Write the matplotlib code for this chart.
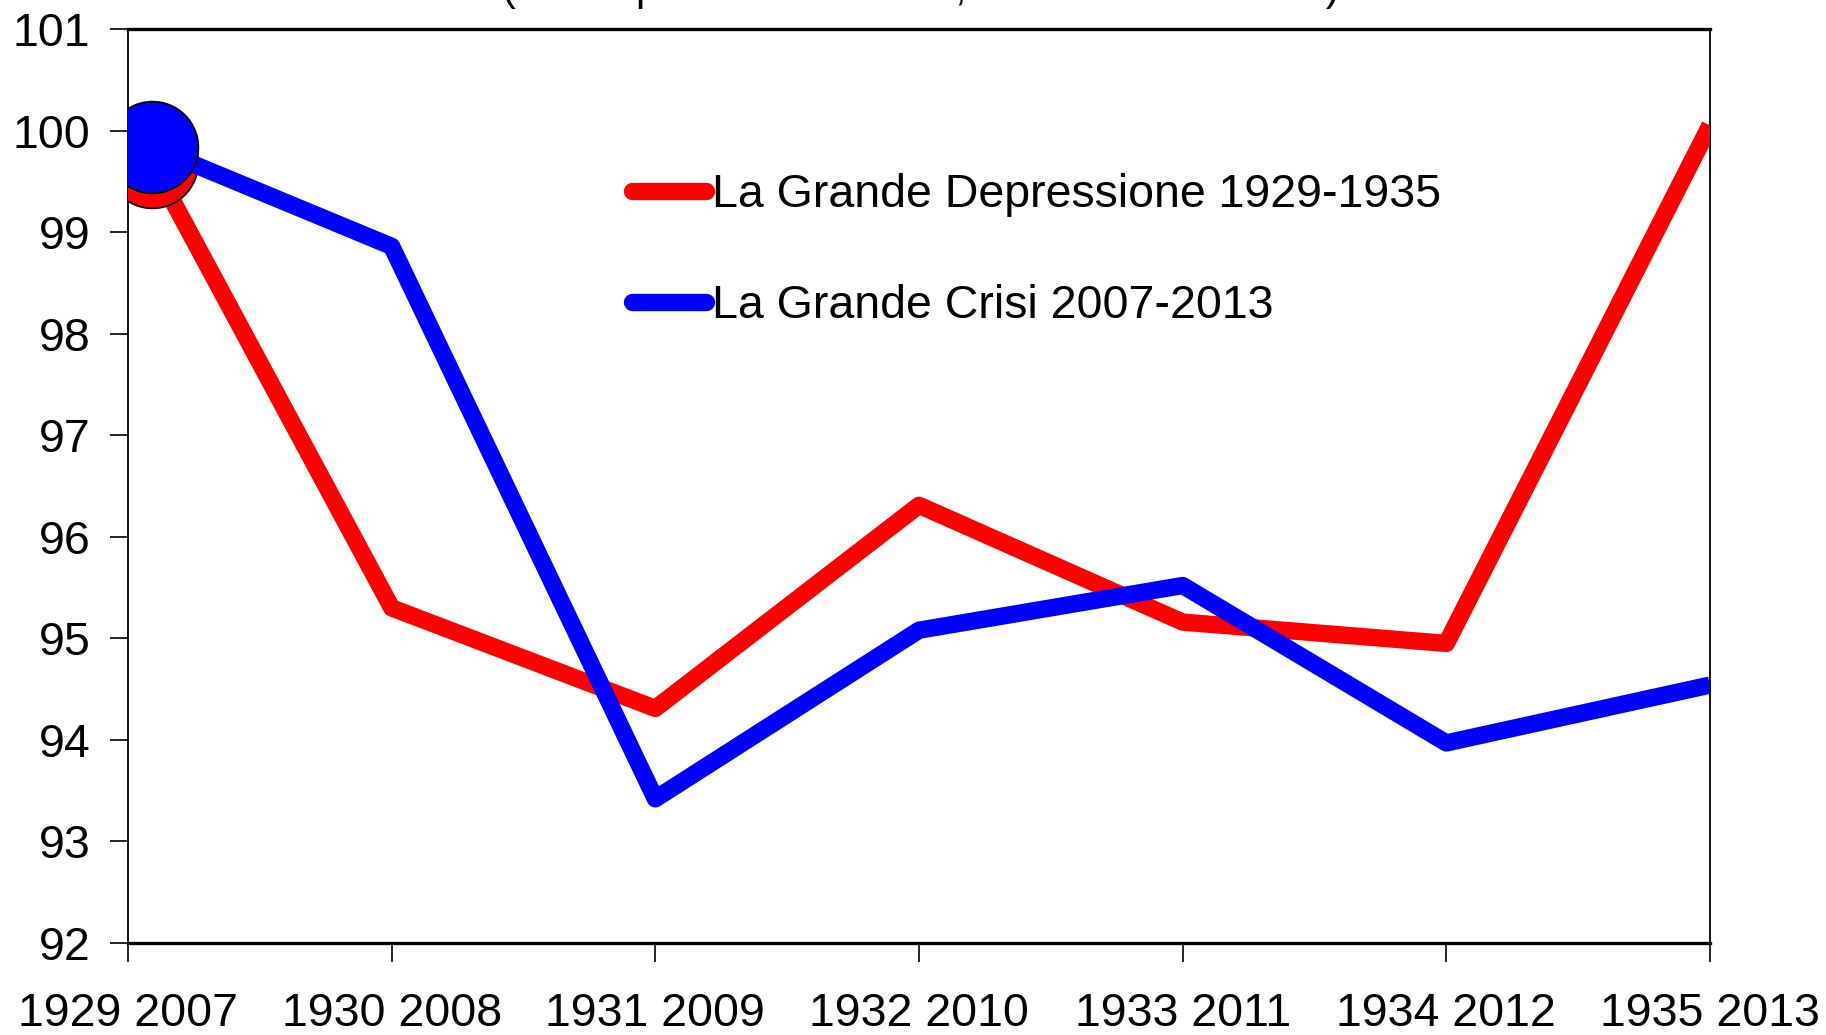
import matplotlib
matplotlib.use('Agg')
import matplotlib.pyplot as plt

plt.rcParams['font.family'] = ['Liberation Sans', 'DejaVu Sans']

# ── Data ────────────────────────────────────────────────────
LABELS   = ['1929 2007', '1930 2008', '1931 2009', '1932 2010',
            '1933 2011', '1934 2012', '1935 2013']
XPOS     = [0.09, 1, 2, 3, 4, 5, 6]
DEPRESS  = [99.69, 95.30, 94.31, 96.31, 95.16, 94.95, 100.05]
CRISI    = [99.84, 98.86, 93.42, 95.08, 95.52, 93.97, 94.54]
NAME_DEP = 'La Grande Depressione 1929-1935'
NAME_CRI = 'La Grande Crisi 2007-2013'
TITLE    = '(indice produzione totale, anno iniziale = 100)'
YTICKS   = list(range(92, 102))

RED  = '#ff0000'
BLUE = '#0000ff'
FS   = 33.5

W, H = 1826, 1035
fig = plt.figure(figsize=(W / 100, H / 100), dpi=100, facecolor='white')
ax = fig.add_axes([128 / W, 1 - 943 / H, (1710 - 128) / W, (943 - 29) / H])

for vals, col, name in [(DEPRESS, RED, NAME_DEP), (CRISI, BLUE, NAME_CRI)]:
    ax.plot(XPOS, vals, color=col, linewidth=12.5, label=name,
            solid_joinstyle='round', solid_capstyle='butt', zorder=3,
            marker='o', markevery=[0], markersize=66,
            markerfacecolor=col, markeredgecolor='black', markeredgewidth=1.3)

ax.set_xlim(0, 6)
ax.set_ylim(92, 101)
ax.set_xticks(range(len(LABELS)))
ax.set_xticklabels(LABELS, fontsize=FS)
ax.set_yticks(YTICKS)
ax.set_yticklabels([str(v) for v in YTICKS], fontsize=FS)
ax.tick_params(axis='x', direction='out', length=14, width=1.2, pad=21)
ax.tick_params(axis='y', direction='out', length=13, width=1.2, pad=14)

for side in ['top', 'bottom']:
    ax.spines[side].set_linewidth(2.4)
for side in ['left', 'right']:
    ax.spines[side].set_linewidth(1.3)

leg = ax.legend(loc='upper left', bbox_to_anchor=(632 / W, 1 - 173 / H),
                bbox_transform=fig.transFigure, frameon=False, fontsize=FS,
                handlelength=1.6, handletextpad=0.12, labelspacing=1.45,
                borderpad=0, borderaxespad=0)
for line in leg.get_lines():
    line.set_linewidth(12.5)
    line.set_solid_capstyle('round')
    line.set_marker('')

# title sits mostly above the canvas, only its descenders show
fig.text(921 / W, 1.0, TITLE, ha='center', va='baseline', fontsize=30)

plt.savefig('out.png', dpi=100, facecolor='white')
plt.close()
